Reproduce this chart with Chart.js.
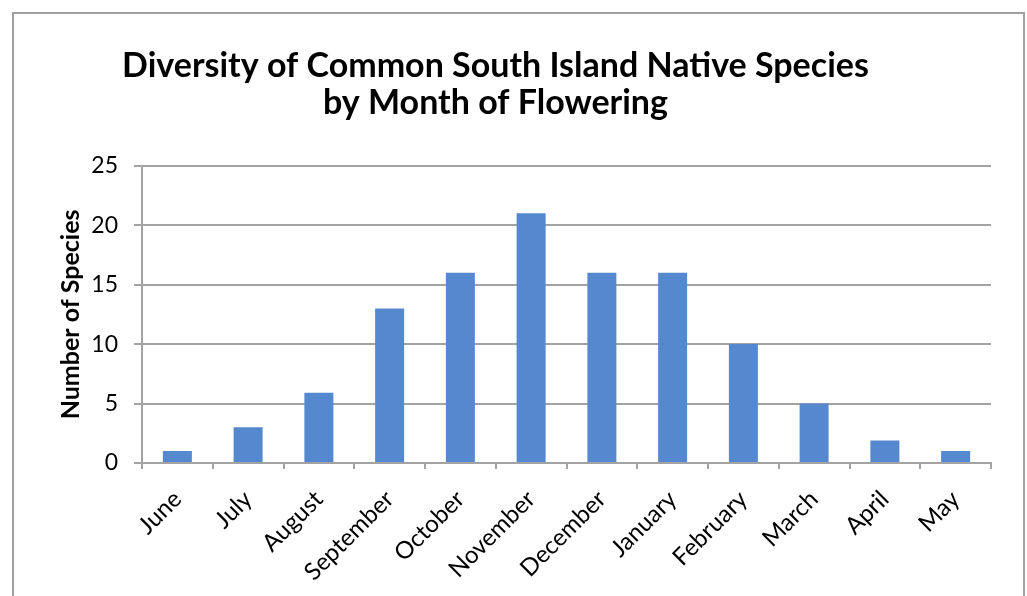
<!DOCTYPE html>
<html>
<head>
<meta charset="utf-8">
<script src="https://cdn.jsdelivr.net/npm/chart.js@4"></script>
<style>
html,body{margin:0;padding:0;background:#fff;}
#wrap{width:1027px;height:596px;position:relative;}
</style>
</head>
<body>
<div id="wrap"><canvas id="c" width="1027" height="596"></canvas></div>
<script>
const months = ["June","July","August","September","October","November","December","January","February","March","April","May"];
const speciesCount = [1,3,5.9,13,16,21,16,16,10,5,1.9,1];
const titleLines = ["Diversity of Common South Island Native Species","by Month of Flowering"];
const yAxisTitle = "Number of Species";

const GRID = "#a3a3a3";
const BAR = "#5589cf";
const FONT = "Lato";

const framePlugin = {
  id: "frame",
  beforeDraw(chart) {
    const ctx = chart.ctx;
    ctx.save();
    ctx.fillStyle = "#fff";
    ctx.fillRect(0, 0, chart.width, chart.height);
    ctx.strokeStyle = "#a0a0a0";
    ctx.lineWidth = 2;
    ctx.strokeRect(13, 13, 1011, 620);
    ctx.restore();
  }
};

new Chart(document.getElementById("c"), {
  type: "bar",
  data: {
    labels: months,
    datasets: [{
      data: speciesCount,
      backgroundColor: BAR,
      categoryPercentage: 1,
      barPercentage: 0.41
    }]
  },
  options: {
    responsive: false,
    animation: false,
    layout: { padding: { left: 0, right: 36, top: 0, bottom: 0 } },
    plugins: {
      legend: { display: false },
      tooltip: { enabled: false },
      title: {
        display: true,
        text: titleLines,
        color: "#000",
        font: { family: FONT, size: 34, weight: "bold", lineHeight: 1.1 },
        padding: { top: 47, bottom: 44 }
      }
    },
    scales: {
      x: {
        afterFit(s) { s.height = 133; },
        grid: { drawOnChartArea: false, drawTicks: true, tickLength: 6, color: GRID, lineWidth: 2 },
        border: { color: GRID, width: 2 },
        ticks: {
          color: "#000",
          font: { family: FONT, size: 24 },
          minRotation: 45, maxRotation: 45,
          padding: 16,
          autoSkip: false
        }
      },
      y: {
        min: 0, max: 25,
        afterFit(s) { s.width = 142; },
        grid: { color: GRID, lineWidth: 2, tickLength: 8 },
        border: { color: GRID, width: 2 },
        ticks: {
          stepSize: 5,
          color: "#000",
          font: { family: FONT, size: 23 },
          padding: 16
        },
        title: {
          display: true,
          text: yAxisTitle,
          color: "#000",
          font: { family: FONT, size: 25, weight: "bold" },
          padding: { top: 56, bottom: 0 }
        }
      }
    }
  },
  plugins: [framePlugin]
});
</script>
</body>
</html>
